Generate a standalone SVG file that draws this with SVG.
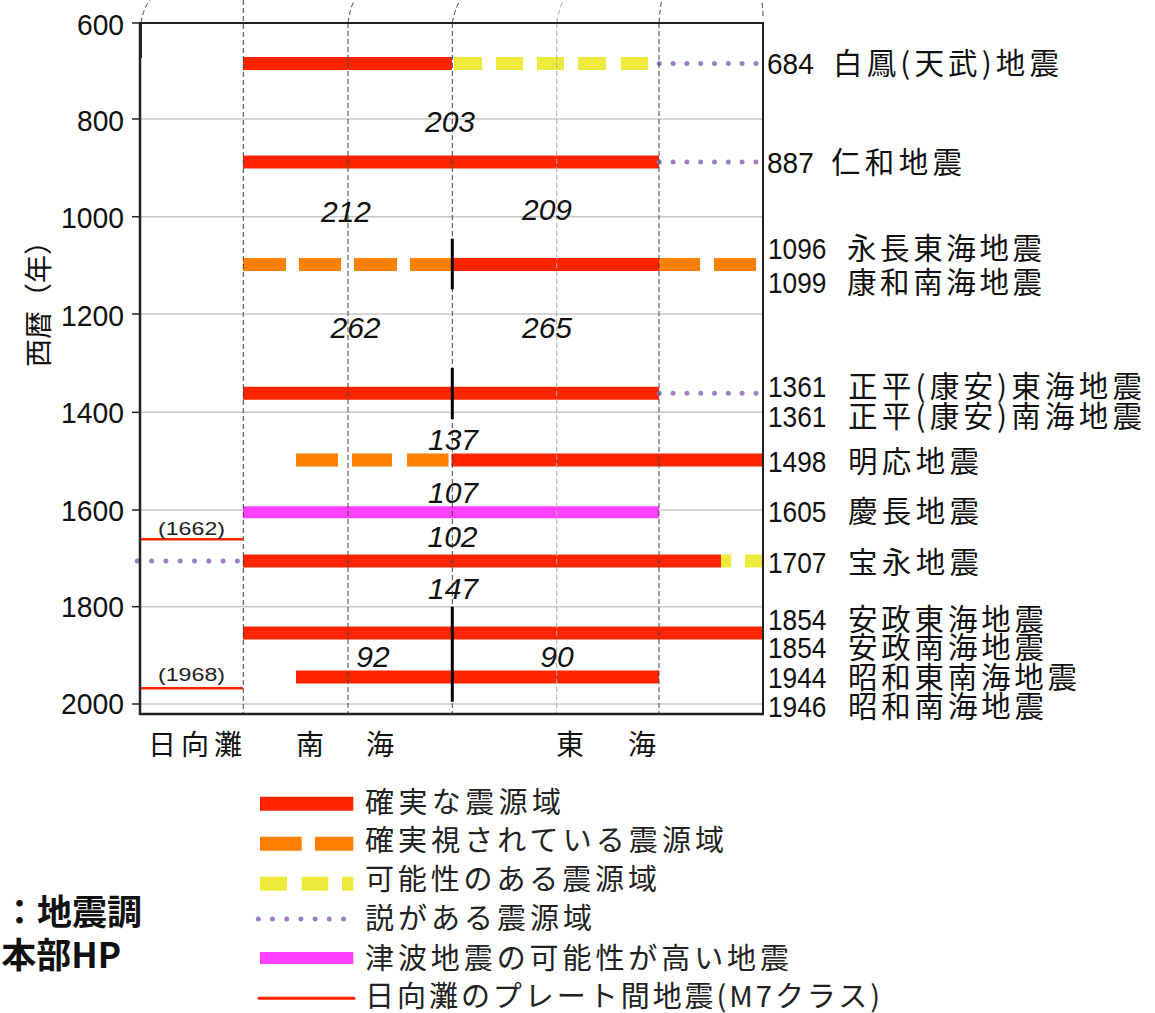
<svg xmlns="http://www.w3.org/2000/svg" width="1155" height="1013" viewBox="0 0 1155 1013">
<style>
  .grid{stroke:#c8c8c8;stroke-width:1.5}
  .tick{stroke:#222;stroke-width:1.5}
  .frame{stroke:#222;fill:none}
  .vd{stroke:#444;stroke-width:1;stroke-dasharray:5 3;fill:none}
  .vdl{stroke:#aaa;stroke-width:1;stroke-dasharray:5 3;fill:none}
  .red{stroke:#ff2400;stroke-width:13}
  .org{stroke:#ff7f00;stroke-width:13}
  .yel{stroke:#eeea3c;stroke-width:13}
  .mag{stroke:#ff40ff;stroke-width:12}
  .dot{stroke:#9a80c0;stroke-width:5;stroke-linecap:round;stroke-dasharray:0 13.8}
  .thin{stroke:#ff2400;stroke-width:2.5}
  .mk{stroke:#000;stroke-width:3}
  .ax{font-family:"Liberation Sans","Noto Sans CJK JP",sans-serif;font-size:30px;fill:#111}
  .iv{font-family:"Liberation Sans",sans-serif;font-style:italic;font-size:30px;fill:#111;text-anchor:middle}
  .yl{font-family:"Liberation Sans","Noto Sans CJK JP",sans-serif;font-size:30px;fill:#111}
  .jp{font-family:"Noto Sans CJK JP",sans-serif;font-size:29.5px;fill:#111}
  .ax2{font-family:"Noto Sans CJK JP",sans-serif;font-size:28px;fill:#111}
  .lg{font-family:"Noto Sans CJK JP",sans-serif;font-size:29px;fill:#222}
  .sm{font-family:"Liberation Sans","Noto Sans CJK JP",sans-serif;font-size:18px;fill:#222}
  .src{font-family:"Noto Sans CJK JP",sans-serif;font-size:35px;font-weight:bold;fill:#111;text-anchor:end}
</style>

<g id="grid">
  <line class="grid" x1="140" y1="119" x2="763" y2="119"/>
  <line class="grid" x1="140" y1="216.7" x2="763" y2="216.7"/>
  <line class="grid" x1="140" y1="314" x2="763" y2="314"/>
  <line class="grid" x1="140" y1="412.3" x2="763" y2="412.3"/>
  <line class="grid" x1="140" y1="510" x2="763" y2="510"/>
  <line class="grid" x1="140" y1="606.7" x2="763" y2="606.7"/>
  <line class="grid" x1="140" y1="704" x2="763" y2="704"/>
</g>

<g id="bars">
  <g id="eq-684">
    <line class="red" x1="243" y1="63.5" x2="452" y2="63.5"/>
    <line class="yel" x1="454" y1="63.5" x2="482" y2="63.5"/>
    <line class="yel" x1="496" y1="63.5" x2="523" y2="63.5"/>
    <line class="yel" x1="537" y1="63.5" x2="564" y2="63.5"/>
    <line class="yel" x1="578" y1="63.5" x2="606" y2="63.5"/>
    <line class="yel" x1="621" y1="63.5" x2="648" y2="63.5"/>
    <line class="dot" x1="659.3" y1="63.5" x2="757" y2="63.5"/>
  </g>
  <g id="eq-887">
    <line class="red" x1="243" y1="162" x2="659" y2="162"/>
    <line class="dot" x1="659.3" y1="162" x2="757" y2="162"/>
  </g>
  <g id="eq-1096">
    <line class="org" x1="243" y1="264.5" x2="286" y2="264.5"/>
    <line class="org" x1="299" y1="264.5" x2="341" y2="264.5"/>
    <line class="org" x1="354" y1="264.5" x2="397" y2="264.5"/>
    <line class="org" x1="410" y1="264.5" x2="452" y2="264.5"/>
    <line class="red" x1="452" y1="264.5" x2="659" y2="264.5"/>
    <line class="org" x1="659" y1="264.5" x2="700" y2="264.5"/>
    <line class="org" x1="714" y1="264.5" x2="756" y2="264.5"/>
  </g>
  <g id="eq-1361">
    <line class="red" x1="243" y1="393.3" x2="659" y2="393.3"/>
    <line class="dot" x1="659.3" y1="393.3" x2="757" y2="393.3"/>
  </g>
  <g id="eq-1498">
    <line class="org" x1="296" y1="460" x2="338" y2="460"/>
    <line class="org" x1="352" y1="460" x2="392" y2="460"/>
    <line class="org" x1="407" y1="460" x2="448.5" y2="460"/>
    <line class="red" x1="451.5" y1="460" x2="763" y2="460"/>
  </g>
  <g id="eq-1605">
    <line class="mag" x1="243" y1="512.3" x2="659" y2="512.3"/>
  </g>
  <g id="eq-1707">
    <line class="red" x1="243" y1="561" x2="721" y2="561"/>
    <line class="yel" x1="721" y1="561" x2="731" y2="561"/>
    <line class="yel" x1="745" y1="561" x2="762" y2="561"/>
    <line class="dot" x1="137.3" y1="561" x2="238" y2="561" style="stroke-dasharray:0 14.3"/>
  </g>
  <g id="eq-1854">
    <line class="red" x1="243" y1="633" x2="763" y2="633"/>
  </g>
  <g id="eq-1944">
    <line class="red" x1="296" y1="677" x2="659" y2="677"/>
  </g>
  <g id="hyuganada">
    <line class="thin" x1="140" y1="539.3" x2="243" y2="539.3"/>
    <text class="sm" x="158" y="535" textLength="67" lengthAdjust="spacingAndGlyphs">(1662)</text>
    <line class="thin" x1="140" y1="688.3" x2="243" y2="688.3"/>
    <text class="sm" x="158" y="681" textLength="67" lengthAdjust="spacingAndGlyphs">(1968)</text>
  </g>
</g>

<g id="zones">
  <line class="vd" x1="243.3" y1="0" x2="243.3" y2="714"/>
  <line class="vd" x1="348" y1="23" x2="348" y2="714"/>
  <line class="vd" x1="452.3" y1="23" x2="452.3" y2="714"/>
  <line class="vdl" x1="556.7" y1="23" x2="556.7" y2="714"/>
  <line class="vd" x1="659" y1="23" x2="659" y2="714"/>
  <path class="vd" d="M141,23 Q143,8 151,-1"/>
  <path class="vd" d="M348,23 Q350,8 355,-1"/>
  <path class="vd" d="M452.3,23 Q455,8 461,-1"/>
  <path class="vdl" d="M556.7,23 Q559,8 564,-1"/>
  <path class="vd" d="M659,23 Q660,8 662,-1"/>
  <path class="vd" d="M763,16 Q763,5 761,-1"/>
</g>

<g id="markers">
  <line class="mk" x1="452.3" y1="238.7" x2="452.3" y2="289.3"/>
  <line class="mk" x1="452.3" y1="368" x2="452.3" y2="419"/>
  <line class="mk" x1="452.3" y1="606.7" x2="452.3" y2="701.7"/>
</g>

<g id="frame">
  <line class="frame" x1="139" y1="23" x2="764" y2="23" stroke-width="2"/>
  <line class="frame" x1="763" y1="23" x2="763" y2="715" stroke-width="2"/>
  <line class="frame" x1="140" y1="23" x2="140" y2="715" stroke-width="2.5"/>
  <line class="frame" x1="141" y1="23" x2="141" y2="58" stroke-width="2"/>
  <line class="frame" x1="139" y1="714" x2="764" y2="714" stroke-width="2.5"/>
  <line class="tick" x1="132" y1="23" x2="140" y2="23"/>
  <line class="tick" x1="132" y1="119" x2="140" y2="119"/>
  <line class="tick" x1="132" y1="216.7" x2="140" y2="216.7"/>
  <line class="tick" x1="132" y1="314" x2="140" y2="314"/>
  <line class="tick" x1="132" y1="412.3" x2="140" y2="412.3"/>
  <line class="tick" x1="132" y1="510" x2="140" y2="510"/>
  <line class="tick" x1="132" y1="606.7" x2="140" y2="606.7"/>
  <line class="tick" x1="132" y1="704" x2="140" y2="704"/>
</g>

<g id="axis-labels">
  <text class="ax" x="124" y="35" text-anchor="end" textLength="47" lengthAdjust="spacingAndGlyphs">600</text>
  <text class="ax" x="124" y="131" text-anchor="end" textLength="47" lengthAdjust="spacingAndGlyphs">800</text>
  <text class="ax" x="124" y="228" text-anchor="end" textLength="63" lengthAdjust="spacingAndGlyphs">1000</text>
  <text class="ax" x="124" y="326" text-anchor="end" textLength="63" lengthAdjust="spacingAndGlyphs">1200</text>
  <text class="ax" x="124" y="423" text-anchor="end" textLength="63" lengthAdjust="spacingAndGlyphs">1400</text>
  <text class="ax" x="124" y="521" text-anchor="end" textLength="63" lengthAdjust="spacingAndGlyphs">1600</text>
  <text class="ax" x="124" y="617" text-anchor="end" textLength="63" lengthAdjust="spacingAndGlyphs">1800</text>
  <text class="ax" x="124" y="714" text-anchor="end" textLength="63" lengthAdjust="spacingAndGlyphs">2000</text>
  <text class="ax2" transform="translate(49,297) rotate(-90)" text-anchor="middle">西暦（年）</text>
  <text class="ax2" x="148" y="755" textLength="94">日向灘</text>
  <text class="ax2" x="296" y="755" textLength="98">南　海</text>
  <text class="ax2" x="556" y="755" textLength="100">東　海</text>
</g>

<g id="intervals">
  <text class="iv" x="450" y="132">203</text>
  <text class="iv" x="346" y="221.5">212</text>
  <text class="iv" x="547" y="220">209</text>
  <text class="iv" x="355.5" y="338">262</text>
  <text class="iv" x="547" y="338">265</text>
  <text class="iv" x="453" y="450">137</text>
  <text class="iv" x="453" y="502.5">107</text>
  <text class="iv" x="452.5" y="547">102</text>
  <text class="iv" x="453" y="599">147</text>
  <text class="iv" x="373" y="666.5">92</text>
  <text class="iv" x="557" y="666.5">90</text>
</g>

<g id="event-labels">
  <text class="yl" y="74"><tspan x="767" textLength="46.7" lengthAdjust="spacingAndGlyphs">684</tspan> <tspan class="jp" x="833" textLength="226">白鳳(天武)地震</tspan></text>
  <text class="yl" y="173"><tspan x="767" textLength="46.7" lengthAdjust="spacingAndGlyphs">887</tspan> <tspan class="jp" x="831" textLength="131">仁和地震</tspan></text>
  <text class="yl" y="259"><tspan x="768" textLength="58.5" lengthAdjust="spacingAndGlyphs">1096</tspan> <tspan class="jp" x="847" textLength="195">永長東海地震</tspan></text>
  <text class="yl" y="293"><tspan x="768" textLength="58.5" lengthAdjust="spacingAndGlyphs">1099</tspan> <tspan class="jp" x="847" textLength="195">康和南海地震</tspan></text>
  <text class="yl" y="397"><tspan x="768" textLength="58.5" lengthAdjust="spacingAndGlyphs">1361</tspan> <tspan class="jp" x="848" textLength="294">正平(康安)東海地震</tspan></text>
  <text class="yl" y="427"><tspan x="768" textLength="58.5" lengthAdjust="spacingAndGlyphs">1361</tspan> <tspan class="jp" x="848" textLength="294">正平(康安)南海地震</tspan></text>
  <text class="yl" y="472"><tspan x="768" textLength="58.5" lengthAdjust="spacingAndGlyphs">1498</tspan> <tspan class="jp" x="848" textLength="131">明応地震</tspan></text>
  <text class="yl" y="522"><tspan x="768" textLength="58.5" lengthAdjust="spacingAndGlyphs">1605</tspan> <tspan class="jp" x="848" textLength="131">慶長地震</tspan></text>
  <text class="yl" y="573"><tspan x="768" textLength="58.5" lengthAdjust="spacingAndGlyphs">1707</tspan> <tspan class="jp" x="848" textLength="131">宝永地震</tspan></text>
  <text class="yl" y="630"><tspan x="768" textLength="58.5" lengthAdjust="spacingAndGlyphs">1854</tspan> <tspan class="jp" x="848" textLength="196">安政東海地震</tspan></text>
  <text class="yl" y="658"><tspan x="768" textLength="58.5" lengthAdjust="spacingAndGlyphs">1854</tspan> <tspan class="jp" x="848" textLength="196">安政南海地震</tspan></text>
  <text class="yl" y="688"><tspan x="768" textLength="58.5" lengthAdjust="spacingAndGlyphs">1944</tspan> <tspan class="jp" x="848" textLength="229">昭和東南海地震</tspan></text>
  <text class="yl" y="717"><tspan x="768" textLength="58.5" lengthAdjust="spacingAndGlyphs">1946</tspan> <tspan class="jp" x="848" textLength="196">昭和南海地震</tspan></text>
</g>

<g id="legend">
  <g id="lg-certain">
    <line class="red" x1="260" y1="803.7" x2="353.3" y2="803.7" style="stroke-width:14"/>
    <text class="lg" x="365" y="813" textLength="196">確実な震源域</text>
  </g>
  <g id="lg-likely">
    <line class="org" x1="260" y1="843.7" x2="301.7" y2="843.7" style="stroke-width:14"/>
    <line class="org" x1="315" y1="843.7" x2="353.3" y2="843.7" style="stroke-width:14"/>
    <text class="lg" x="365" y="851" textLength="359">確実視されている震源域</text>
  </g>
  <g id="lg-possible">
    <line class="yel" x1="260" y1="883.7" x2="287" y2="883.7" style="stroke-width:14"/>
    <line class="yel" x1="301.7" y1="883.7" x2="328.3" y2="883.7" style="stroke-width:14"/>
    <line class="yel" x1="342" y1="883.7" x2="353.3" y2="883.7" style="stroke-width:14"/>
    <text class="lg" x="365" y="890" textLength="292">可能性のある震源域</text>
  </g>
  <g id="lg-theory">
    <line class="dot" x1="258.3" y1="919" x2="345" y2="919" style="stroke-dasharray:0 14.2"/>
    <text class="lg" x="365" y="929" textLength="227">説がある震源域</text>
  </g>
  <g id="lg-tsunami">
    <line class="mag" x1="260" y1="958" x2="353.3" y2="958"/>
    <text class="lg" x="365" y="969" textLength="424">津波地震の可能性が高い地震</text>
  </g>
  <g id="lg-hyuga">
    <line class="thin" x1="259" y1="998.3" x2="354" y2="998.3" style="stroke-width:3;stroke-linecap:round"/>
    <text class="lg" x="365" y="1007" textLength="515">日向灘のプレート間地震(M7クラス)</text>
  </g>
</g>

<g id="source">
  <text class="src" x="142" y="925">：地震調</text>
  <text class="src" x="121" y="968">本部HP</text>
</g>
</svg>
